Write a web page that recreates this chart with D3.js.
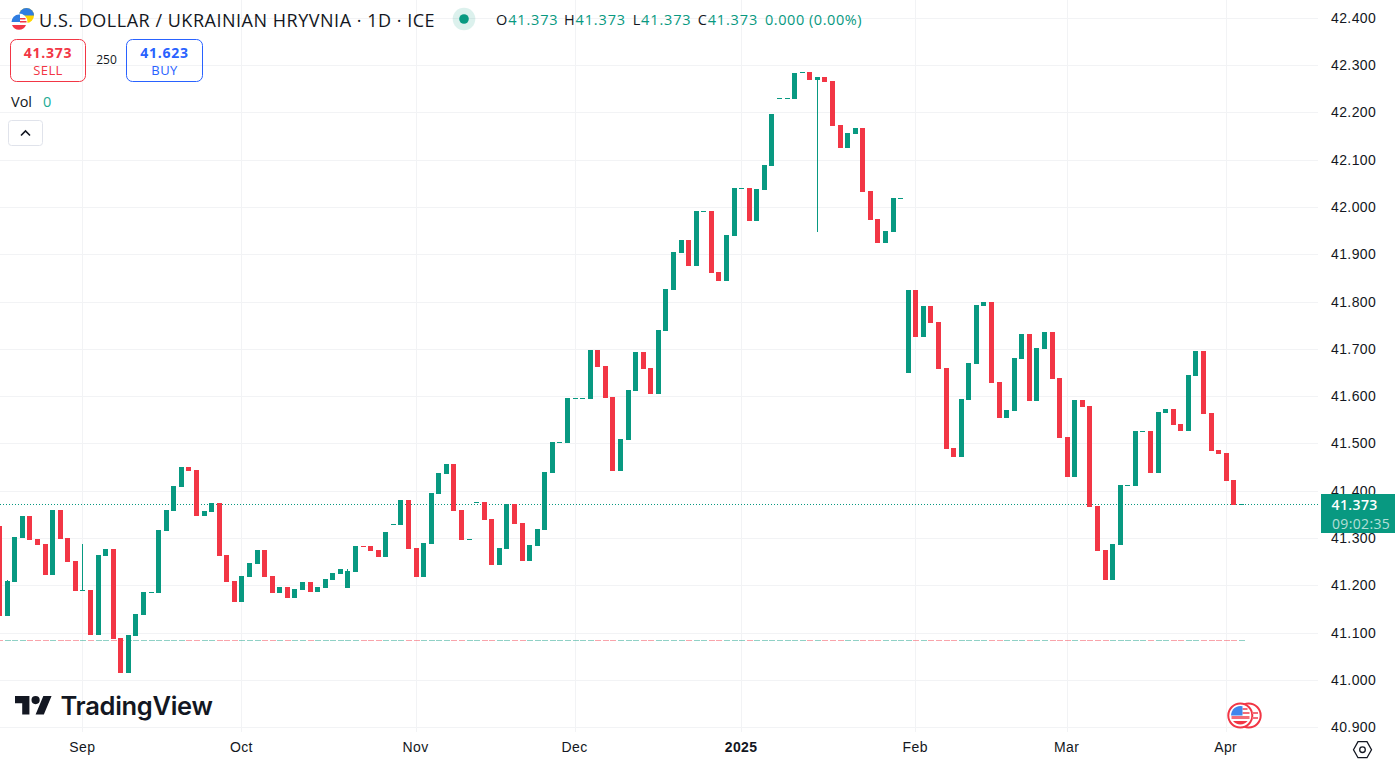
<!DOCTYPE html>
<html>
<head>
<meta charset="utf-8">
<title>USD/UAH daily candles</title>
<script src="https://cdn.jsdelivr.net/npm/d3@7/dist/d3.min.js"></script>
<style>
  html, body { margin: 0; padding: 0; background: #fff; }
  svg { display: block; font-family: "Open Sans", sans-serif; }
  .price-axis text, .time-axis text { fill: #131722; font-size: 14px; letter-spacing: .4px; }
</style>
</head>
<body>
<svg id="chart" width="1395" height="765"></svg>
<script>
// Daily sessions, oldest first: opening and closing rate.
const opens = [
  41.326,41.135,41.207,41.300,41.347,41.298,41.288,41.222,41.359,41.300,
  41.252,41.188,41.190,41.095,41.262,41.277,41.089,41.015,41.093,41.138,
  41.185,41.184,41.315,41.357,41.408,41.451,41.444,41.347,41.355,41.374,
  41.264,41.209,41.165,41.218,41.245,41.275,41.220,41.184,41.197,41.173,
  41.190,41.207,41.186,41.195,41.211,41.224,41.195,41.228,41.283,41.283,
  41.275,41.260,41.328,41.328,41.381,41.279,41.218,41.288,41.393,41.436,
  41.457,41.359,41.296,41.376,41.377,41.340,41.243,41.277,41.372,41.332,
  41.252,41.283,41.317,41.438,41.502,41.501,41.595,41.595,41.594,41.698,
  41.664,41.598,41.442,41.507,41.611,41.693,41.660,41.605,41.738,41.825,
  41.903,41.930,41.875,41.990,41.992,41.863,41.844,41.939,42.039,42.040,
  41.970,42.036,42.087,42.229,42.229,42.228,42.284,42.285,42.268,42.275,
  42.266,42.173,42.125,42.154,42.167,42.034,41.975,41.924,41.947,42.018,
  41.649,41.825,41.725,41.791,41.757,41.660,41.490,41.471,41.592,41.668,
  41.791,41.799,41.630,41.554,41.569,41.679,41.732,41.590,41.700,41.736,
  41.638,41.514,41.429,41.592,41.579,41.368,41.275,41.211,41.285,41.411,
  41.410,41.525,41.526,41.438,41.565,41.573,41.541,41.526,41.643,41.696,
  41.565,41.486,41.480,41.423,41.373
];
const closes = [
  41.135,41.209,41.302,41.347,41.296,41.285,41.222,41.359,41.298,41.250,
  41.188,41.190,41.095,41.264,41.277,41.087,41.015,41.095,41.140,41.186,
  41.186,41.317,41.359,41.410,41.451,41.442,41.347,41.357,41.374,41.262,
  41.207,41.165,41.220,41.247,41.275,41.218,41.184,41.197,41.173,41.192,
  41.207,41.186,41.197,41.214,41.226,41.235,41.230,41.283,41.281,41.273,
  41.260,41.313,41.329,41.381,41.277,41.218,41.290,41.395,41.438,41.457,
  41.357,41.296,41.298,41.377,41.338,41.243,41.279,41.372,41.330,41.252,
  41.285,41.319,41.440,41.503,41.503,41.596,41.596,41.596,41.698,41.662,
  41.596,41.442,41.510,41.613,41.693,41.658,41.605,41.740,41.827,41.905,
  41.930,41.875,41.992,41.991,41.860,41.844,41.941,42.040,42.040,41.970,
  42.038,42.089,42.197,42.230,42.230,42.283,42.285,42.268,42.275,42.264,
  42.171,42.125,42.156,42.167,42.032,41.972,41.924,41.949,42.019,42.019,
  41.825,41.725,41.791,41.755,41.658,41.488,41.471,41.594,41.670,41.793,
  41.799,41.628,41.554,41.571,41.681,41.732,41.590,41.702,41.736,41.636,
  41.512,41.429,41.592,41.577,41.366,41.273,41.211,41.288,41.412,41.412,
  41.526,41.526,41.438,41.567,41.573,41.539,41.526,41.645,41.696,41.562,
  41.484,41.478,41.421,41.370,41.373
];
// The few sessions whose range reaches past the body: [session index, extreme rate].
const longWicks = [[1,41.211],[11,41.288],[46,41.235],[108,41.947]];

// Axis content.
const priceTicks = [40.9,41,41.1,41.2,41.3,41.4,41.5,41.6,41.7,41.8,41.9,42,42.1,42.2,42.3,42.4];
const monthTicks = [11,32,55,76,98,121,141,162];
const monthLabels = ["Sep","Oct","Nov","Dec","2025","Feb","Mar","Apr"];

// Quote panel values.
const lastPrice = 41.373;
const buyPrice = 41.623;
const spread = 250;
const sessionFloor = 41.085;
const quoteParts = [["O",41.373],["H",41.373],["L",41.373],["C",41.373]];

const GREEN = "#089981", RED = "#F23645", GRID = "#F2F3F5";
const svg = d3.select("#chart");
const plotRight = 1318;

const x = d3.scaleLinear().domain([11,164]).range([82.9,1241.3]);
const y = d3.scaleLinear().domain([41,42.3]).range([680,65]);
const snap = v => Math.round(v);

// Grid
const grid = svg.append("g").attr("class","grid").attr("shape-rendering","crispEdges");
grid.selectAll("line.h").data(priceTicks).join("line").attr("class","h")
  .attr("x1",0).attr("x2",plotRight)
  .attr("y1",d=>snap(y(d))+.5).attr("y2",d=>snap(y(d))+.5)
  .attr("stroke",GRID);
grid.selectAll("line.v").data(monthTicks).join("line").attr("class","v")
  .attr("x1",d=>snap(x(d)-2.5)+2.5).attr("x2",d=>snap(x(d)-2.5)+2.5)
  .attr("y1",0).attr("y2",732)
  .attr("stroke",GRID);

// Pale per-session strip along the session floor
const sessions = d3.range(opens.length);
const rising = i => closes[i] >= opens[i];
svg.append("g").attr("shape-rendering","crispEdges").selectAll("rect")
  .data(sessions).join("rect")
  .attr("x",i=>snap(x(i)-2.5)).attr("width",6)
  .attr("y",snap(y(sessionFloor))).attr("height",1)
  .attr("fill",i=>rising(i)?GREEN:RED).attr("opacity",.45);

// Last price line, behind the candles
svg.append("line")
  .attr("x1",0).attr("x2",plotRight)
  .attr("y1",snap(y(lastPrice))+.5).attr("y2",snap(y(lastPrice))+.5)
  .attr("stroke",GREEN).attr("stroke-width",1).attr("stroke-dasharray","1 2");

// Candles
const candles = svg.append("g").attr("class","candles").attr("shape-rendering","crispEdges");
candles.selectAll("rect.wick").data(longWicks).join("rect").attr("class","wick")
  .attr("x",d=>snap(x(d[0])-2.5)+2).attr("width",1)
  .attr("y",d=>snap(y(Math.max(d[1],opens[d[0]],closes[d[0]]))))
  .attr("height",d=>{
    const hi=Math.max(d[1],opens[d[0]],closes[d[0]]), lo=Math.min(d[1],opens[d[0]],closes[d[0]]);
    return snap(y(lo))-snap(y(hi));
  })
  .attr("fill",d=>rising(d[0])?GREEN:RED);
candles.selectAll("rect.body").data(sessions).join("rect").attr("class","body")
  .attr("x",i=>snap(x(i)-2.5)).attr("width",5)
  .attr("y",i=>snap(y(Math.max(opens[i],closes[i]))))
  .attr("height",i=>Math.max(1,snap(y(Math.min(opens[i],closes[i])))-snap(y(Math.max(opens[i],closes[i])))))
  .attr("fill",i=>rising(i)?GREEN:RED);

// Price axis
const priceAxis = d3.axisRight(y).tickValues(priceTicks).tickFormat(d3.format(".3f")).tickSize(0).tickPadding(0);
svg.append("g").attr("class","price-axis").attr("transform","translate(1331,0)").call(priceAxis)
  .call(g=>g.select(".domain").remove());

// Time axis
const timeAxis = d3.axisBottom(x).tickValues(monthTicks)
  .tickFormat(d=>monthLabels[monthTicks.indexOf(d)]).tickSize(0).tickPadding(0);
svg.append("g").attr("class","time-axis").attr("transform","translate(-1,742)").call(timeAxis)
  .call(g=>g.select(".domain").remove())
  .call(g=>g.selectAll("text").attr("font-weight",d=>monthLabels[monthTicks.indexOf(d)]==="2025"?700:400));

// Last price tag
svg.append("rect").attr("x",1321).attr("y",494).attr("width",74).attr("height",39).attr("fill",GREEN);
svg.append("text").attr("x",1331.5).attr("y",510)
  .attr("font-size",14).attr("font-weight",600).style("letter-spacing",".4px").attr("fill","#fff").text(lastPrice.toFixed(3));
svg.append("text").attr("x",1332).attr("y",528.5)
  .attr("font-size",14).style("letter-spacing",".35px").attr("fill","#fff").attr("fill-opacity",.7).text("09:02:35");

// Header
const head = svg.append("g");
head.append("text").attr("x",39).attr("y",26.5).attr("font-size",18).attr("fill","#131722")
  .style("letter-spacing",".52px").text("U.S. DOLLAR / UKRAINIAN HRYVNIA · 1D · ICE");

// Pair symbol
const sym = head.append("g");
sym.append("circle").attr("cx",26.5).attr("cy",15.5).attr("r",7.5).attr("fill","#FFD500");
sym.append("path").attr("d","M19 15.5a7.5 7.5 0 0 1 15 0z").attr("fill","#2F7DE1");
sym.append("circle").attr("cx",19).attr("cy",22).attr("r",8.5).attr("fill","#fff");
sym.append("path").attr("d","M12 25h14a7.5 7.5 0 0 1-14 0z").attr("fill","#F23645");
sym.append("path").attr("d","M11.5 22a7.5 7.5 0 0 1 7.5-7.5h1v7.5z").attr("fill","#2F7DE1");
sym.append("path").attr("d","M20 18h5.5v1.5h-5.5zM20 21h6.5v1.5h-6.5z").attr("fill","#F23645");

// Market status dot
head.append("circle").attr("cx",464).attr("cy",19).attr("r",11.3).attr("fill",GREEN).attr("fill-opacity",.14);
head.append("circle").attr("cx",464).attr("cy",19).attr("r",4.8).attr("fill",GREEN);

// OHLC readout: each field starts at its own column
const readout = head.append("text").attr("y",25).attr("font-size",14.5).style("letter-spacing",".85px");
const fieldStarts = [496,564,632.7,697.7];
quoteParts.forEach(([k,v],i)=>{
  readout.append("tspan").attr("x",fieldStarts[i]).attr("fill","#131722").text(k);
  readout.append("tspan").attr("fill",GREEN).text(v.toFixed(3));
});
readout.append("tspan").attr("x",765).attr("fill",GREEN).style("letter-spacing",".55px").text("0.000 (0.00%)");

// Sell / buy buttons
[[10.5,75,RED,lastPrice,"SELL"],[126.5,76,"#2962FF",buyPrice,"BUY"]].forEach(([bx,bw,col,val,lab])=>{
  head.append("text").attr("x",bx+bw/2).attr("y",57.5).attr("text-anchor","middle")
    .attr("font-size",14).attr("font-weight",700).style("letter-spacing",".75px").attr("fill",col).text(val.toFixed(3));
  head.append("text").attr("x",bx+bw/2).attr("y",75).attr("text-anchor","middle")
    .attr("font-size",13).style("letter-spacing",".4px").attr("fill",col).text(lab);
  head.append("rect").attr("x",bx).attr("y",39.5).attr("width",bw).attr("height",42).attr("rx",6)
    .attr("fill","none").attr("stroke",col);
});
head.append("text").attr("x",106.5).attr("y",64).attr("text-anchor","middle")
  .attr("font-size",12).attr("fill","#131722").text(spread);

// Volume legend
head.append("text").attr("x",11).attr("y",106.5).attr("font-size",14.5).attr("fill","#131722").text("Vol");
head.append("text").attr("x",43).attr("y",106.5).attr("font-size",14.5).attr("fill","#22AB94").text("0");

// Collapse button
head.append("rect").attr("x",8.5).attr("y",120.5).attr("width",34).attr("height",25).attr("rx",3)
  .attr("fill","#fff").attr("stroke","#E0E3EB");
head.append("path").attr("d","M21 135.5l4.5-4.5 4.5 4.5").attr("fill","none").attr("stroke","#131722").attr("stroke-width",1.6);

// Wordmark
const mark = svg.append("g");
mark.append("g").attr("transform","translate(15,691.8) scale(1.03)").call(g=>{
  g.append("path").attr("d","M14 22H7V11H0V4h14v18zM28 22h-8l7.5-18h8L28 22z").attr("fill","#131722");
  g.append("circle").attr("cx",20).attr("cy",8).attr("r",4).attr("fill","#131722");
});
mark.append("text").attr("x",60.5).attr("y",714.5)
  .style("font-family","Inter, sans-serif").attr("font-size",25.5).attr("font-weight",600).attr("fill","#131722")
  .style("letter-spacing","-.3px").text("TradingView");

// Economic event markers
const flag = svg.append("g");
[1248.7,1240.3].forEach(cx=>{
  flag.append("circle").attr("cx",cx).attr("cy",715.5).attr("r",12).attr("fill","#fff").attr("stroke",RED).attr("stroke-width",2);
});
flag.append("path").attr("d","M1252 712h6v2h-6zM1252 717h6v2h-6z").attr("fill","#F26D79");
flag.append("path").attr("d","M1231.5 716h18v3h-18z").attr("fill","#F26D79");
flag.append("path").attr("d","M1233 721h14.6a9.5 9.5 0 0 1-14.6 0z").attr("fill","#F23645");
flag.append("path").attr("d","M1242.5 708h5v2h-5zM1242.5 712h7v2h-7z").attr("fill","#F26D79");
flag.append("path").attr("d","M1231 715.5a9.5 9.5 0 0 1 11.5-9.3v9.3z").attr("fill","#3F86EC");

// Settings hexagon
svg.append("path").attr("d","M1353.5 749.7l4.5-8h9l4.5 8-4.5 8h-9z").attr("fill","none").attr("stroke","#131722").attr("stroke-width",1.3);
svg.append("circle").attr("cx",1362.5).attr("cy",749.7).attr("r",2.8).attr("fill","none").attr("stroke","#131722").attr("stroke-width",1.3);
</script>
</body>
</html>
